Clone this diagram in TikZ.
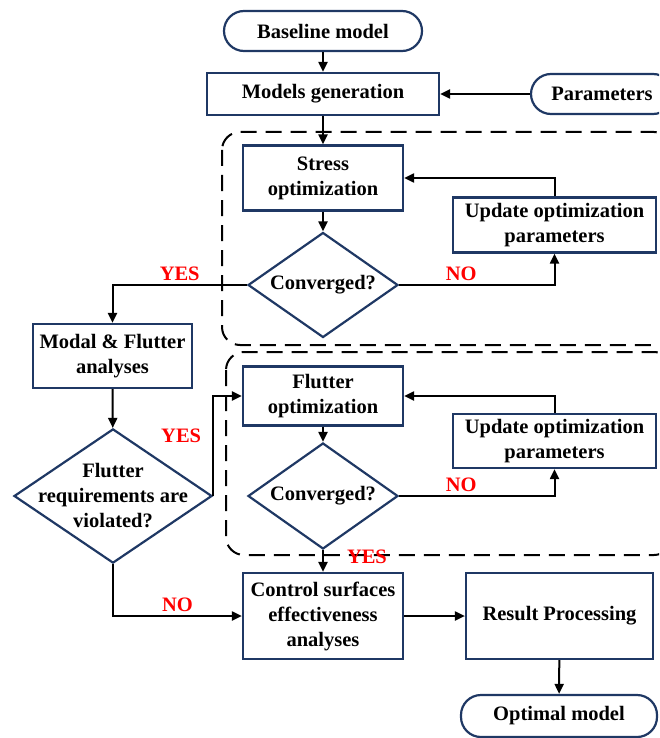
\documentclass[tikz,border=0pt]{standalone}
\usepackage{fontspec}
\setmainfont{Liberation Serif}
\usetikzlibrary{shapes.geometric,arrows.meta}
\definecolor{navy}{RGB}{31,56,100}
\begin{document}
\begin{tikzpicture}[x=1pt,y=-1pt,line width=2pt,
  >={Triangle[length=10pt,width=9pt]},
  stage/.style={draw=navy,line width=2.2pt,align=center,inner sep=0pt,
    font=\fontsize{20.5}{25}\selectfont\bfseries},
  terminal/.style={stage,rounded corners=20pt,minimum height=40pt},
  check/.style={stage,diamond,inner sep=-20pt},
  answer/.style={text=red,inner sep=3pt,
    font=\fontsize{20.5}{25}\selectfont\bfseries},
  loopbox/.style={draw,dash pattern=on 16pt off 9pt,line width=2pt,
    rounded corners=18pt}]
\useasboundingbox (0,0) rectangle (659,738);
\clip (0,0) rectangle (659,738);
\draw[loopbox] (222,132) rectangle (672,345);
\draw[loopbox] (226,352) rectangle (672,555);
\node[terminal,minimum width=198pt] (base) at (323,31) {Baseline model};
\node[stage,minimum width=232pt,minimum height=42pt] (gen) at (323,94)
  {Models generation};
\node[terminal,minimum width=142pt] (param) at (602,94) {Parameters};
\node[stage,minimum width=160pt,minimum height=65pt] (stress) at (323,178)
  {Stress\\optimization};
\node[stage,minimum width=203pt,minimum height=55pt] (upd1) at (554.5,225)
  {Update optimization\\parameters};
\node[check,minimum width=150pt,minimum height=105pt] (conv1) at (323,285)
  {Converged?};
\node[stage,minimum width=159pt,minimum height=64pt] (modal) at (112.5,356)
  {Modal \& Flutter\\analyses};
\node[check,minimum width=198pt,minimum height=130pt] (flreq) at (113,496)
  {Flutter\\requirements are\\violated?};
\node[stage,minimum width=160pt,minimum height=59pt] (flopt) at (323,396)
  {Flutter\\optimization};
\node[stage,minimum width=203pt,minimum height=54pt] (upd2) at (554.5,441)
  {Update optimization\\parameters};
\node[check,minimum width=150pt,minimum height=106pt] (conv2) at (323,496)
  {Converged?};
\node[stage,minimum width=160pt,minimum height=86pt] (ctrl) at (323,616)
  {Control surfaces\\effectiveness\\analyses};
\node[stage,minimum width=187pt,minimum height=86pt] (result) at (559.5,616)
  {Result Processing};
\node[terminal,minimum width=196pt,minimum height=42pt] (optimal) at (559,716)
  {Optimal model};
\draw[->] (base) -- (gen);
\draw[->] (param) -- (gen);
\draw[->] (gen) -- (stress);
\draw[->] (stress) -- (conv1);
\draw[->] (conv1.east) -| node[answer,above,pos=0.2] {NO} (upd1.south);
\draw[->] (upd1.north) |- (stress.east);
\draw[->] (conv1.west) -| node[answer,above,pos=0.25] {YES} (modal.north);
\draw[->] (modal) -- (flreq);
\draw[->] (flreq.east) |- node[answer,left,pos=0.3,xshift=-8pt] {YES} (flopt.west);
\draw[->] (flopt) -- (conv2);
\draw[->] (conv2.east) -| node[answer,above,pos=0.2] {NO} (upd2.south);
\draw[->] (upd2.north) |- (flopt.east);
\draw[->] (conv2) -- node[answer,right,pos=0.3,xshift=20pt] {YES} (ctrl);
\draw[->] (flreq.south) |- node[answer,above,pos=0.75] {NO} (ctrl.west);
\draw[->] (ctrl) -- (result);
\draw[->] (result) -- (optimal);
\end{tikzpicture}
\end{document}
